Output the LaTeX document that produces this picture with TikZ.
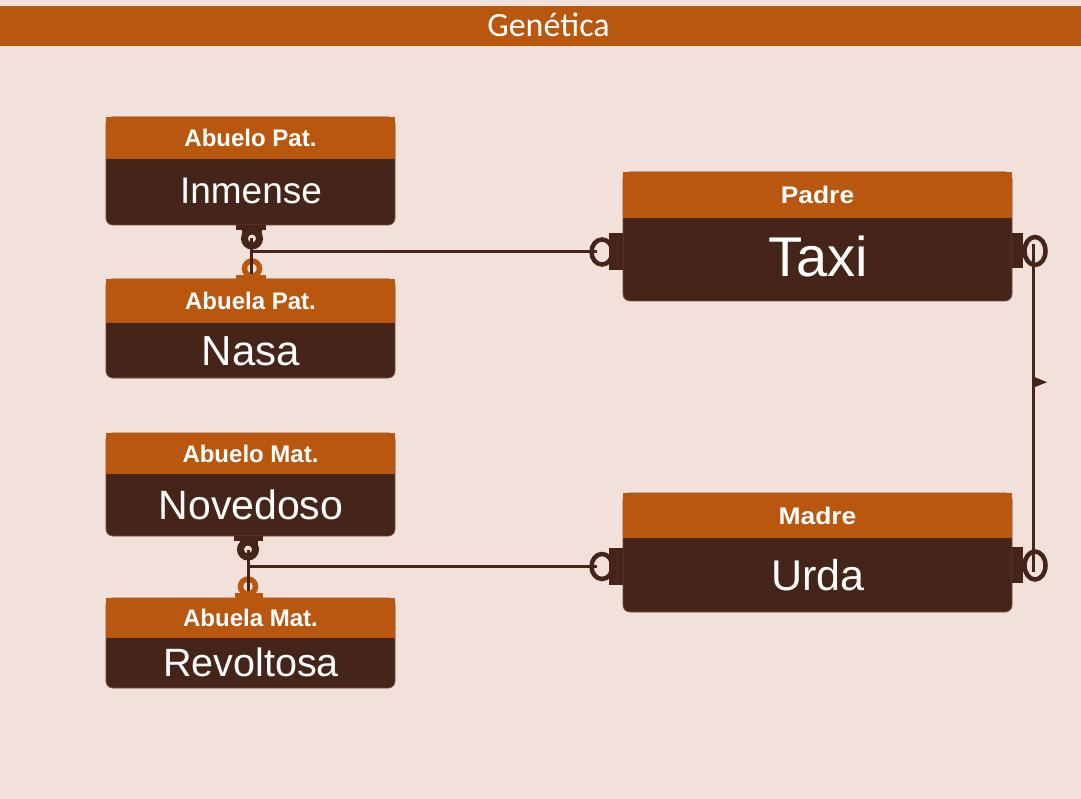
\documentclass[tikz,border=0pt]{standalone}
\usepackage{fontspec}
\usepackage{graphicx}
\setmainfont{Liberation Sans}
\newfontfamily\titlefont{Carlito}
\usetikzlibrary{calc}
\definecolor{org}{HTML}{B9570E}
\definecolor{dk}{HTML}{45251A}
\definecolor{bgc}{HTML}{F2E0DA}
\definecolor{edge}{HTML}{7A4A38}
\newcommand{\wide}[1]{\scalebox{1.1}[1]{#1}}
\tikzset{
  entbox/.style={fill=dk, draw=edge, line width=0.8pt, rounded corners=7pt, inner sep=0pt, outer sep=0pt},
  hdr/.style={fill=org, inner sep=0pt, outer sep=0pt, text=white, anchor=north,
    font=\fontsize{24}{24}\selectfont\bfseries, text height=17pt, text depth=0pt},
  bodytxt/.style={text=white, inner sep=0pt, anchor=base, font=\fontsize{#1}{#1}\selectfont},
  conn/.style={draw=dk, line width=3pt},
  ringd/.style={draw=dk, line width=4.5pt},
  ringo/.style={draw=org, line width=5.5pt},
}
\begin{document}
\begin{tikzpicture}[x=1pt,y=-1pt]
\fill[bgc] (0,0) rectangle (1081,799);
\useasboundingbox (0,0) rectangle (1081,799);
% title
\node[fill=org, minimum width=1081pt, minimum height=40pt, inner sep=0pt, text=white,
  text height=21.5pt, text depth=0pt,
  font=\titlefont\fontsize{34}{34}\selectfont] (title) at (540.5,26) {\hspace*{16pt}Genética};
% left entities
\node[entbox, minimum width=289pt, minimum height=108pt] (boxAP) at (250.5,171) {};
\node[hdr, minimum width=289pt, minimum height=42pt] (hAP) at (boxAP.north) {Abuelo Pat.};
\node[bodytxt=37] (inmense) at (251,203.5) {Inmense};

\node[entbox, minimum width=289pt, minimum height=99pt] (boxBP) at (250.5,328.5) {};
\node[hdr, minimum width=289pt, minimum height=44pt] (hBP) at (boxBP.north) {Abuela Pat.};
\node[bodytxt=42] (nasa) at (251,365.5) {Nasa};

\node[entbox, minimum width=289pt, minimum height=103pt] (boxAM) at (250.5,484.5) {};
\node[hdr, minimum width=289pt, minimum height=41pt] (hAM) at (boxAM.north) {Abuelo Mat.};
\node[bodytxt=41] (novedoso) at (251,519.5) {Novedoso};

\node[entbox, minimum width=289pt, minimum height=90pt] (boxBM) at (250.5,643) {};
\node[hdr, minimum width=289pt, minimum height=40pt] (hBM) at (boxBM.north) {Abuela Mat.};
\node[bodytxt=39.5] (revoltosa) at (251,676) {Revoltosa};
% right entities
\node[entbox, minimum width=389pt, minimum height=129pt] (boxPa) at (817.5,236.5) {};
\node[hdr, minimum width=389pt, minimum height=46pt] (hPa) at (boxPa.north) {\wide{Padre}};
\node[bodytxt=56] (taxi) at (818,277) {Taxi};

\node[entbox, minimum width=389pt, minimum height=119pt] (boxMa) at (817.5,552.5) {};
\node[hdr, minimum width=389pt, minimum height=45pt] (hMa) at (boxMa.north) {\wide{Madre}};
\node[bodytxt=43] (urda) at (818,590) {Urda};

% connection points
\coordinate (pL) at ($(boxPa.west)+(-21,15.5)$);
\coordinate (pR) at ($(boxPa.east)+(23,14.5)$);
\coordinate (mL) at ($(boxMa.west)+(-21,14)$);
\coordinate (mR) at ($(boxMa.east)+(23,13)$);
\coordinate (jP) at ($(boxAP.south)+(0.5,27)$);
\coordinate (jM) at ($(boxAM.south)+(-2.5,30.5)$);

% tabs and rings: paternal grandparents
\fill[dk] ($(boxAP.south)+(-14.5,0)$) rectangle ($(boxAP.south)+(15.5,5)$);
\fill[dk] ($(boxAP.south)+(-8.5,5)$) rectangle ($(boxAP.south)+(11.5,9)$);
\draw[dk, line width=7pt] ($(boxAP.south)+(1.5,13.5)$) circle[radius=7.5];
\fill[org] ($(boxBP.north)+(-14.5,-4)$) rectangle ($(boxBP.north)+(15.5,0)$);
\draw[ringo] ($(boxBP.north)+(1.5,-10.5)$) circle[radius=7.5];
% maternal grandparents
\fill[dk] ($(boxAM.south)+(-16.5,0)$) rectangle ($(boxAM.south)+(12.5,5)$);
\fill[dk] ($(boxAM.south)+(-10.5,5)$) rectangle ($(boxAM.south)+(7.5,9)$);
\draw[dk, line width=7pt] ($(boxAM.south)+(-2.5,13.5)$) circle[radius=7.5];
\fill[org] ($(boxBM.north)+(-15.5,-5)$) rectangle ($(boxBM.north)+(12.5,0)$);
\draw[ringo] ($(boxBM.north)+(-2.5,-11.5)$) circle[radius=7.5];
% parents
\fill[dk] ($(boxPa.west)+(-14,-3.5)$) rectangle ($(boxPa.west)+(0,33.5)$);
\draw[ringd] (pL) ellipse[x radius=10.5, y radius=12.5];
\fill[dk] ($(boxPa.east)+(0,-3.5)$) rectangle ($(boxPa.east)+(11,31.5)$);
\draw[ringd] (pR) ellipse[x radius=10.5, y radius=14];
\fill[dk] ($(boxMa.west)+(-14,-5)$) rectangle ($(boxMa.west)+(0,32)$);
\draw[ringd] (mL) ellipse[x radius=10.5, y radius=12.5];
\fill[dk] ($(boxMa.east)+(0,-5.5)$) rectangle ($(boxMa.east)+(11,30.5)$);
\draw[ringd] (mR) ellipse[x radius=10.5, y radius=14];

% connectors
\draw[conn] ($(boxAP.south)+(0.5,13.5)$) -- ($(boxBP.north)+(0.5,-5)$);
\draw[conn] (jP) -- ($(pL)+(-5,0)$);
\draw[conn] ($(boxAM.south)+(-2.5,14)$) -- ($(boxBM.north)+(-2.5,-7)$);
\draw[conn] (jM) -- ($(mL)+(-5,0)$);
\draw[conn] ($(pR)+(-1.5,-7)$) -- ($(mR)+(-1.5,6)$);
\coordinate (tri) at ($(pR)!0.417!(mR)+(-1.5,0)$);
\fill[dk] ($(tri)+(0,-5.5)$) -- ($(tri)+(13.5,0)$) -- ($(tri)+(0,5.5)$) -- cycle;
\end{tikzpicture}
\end{document}
